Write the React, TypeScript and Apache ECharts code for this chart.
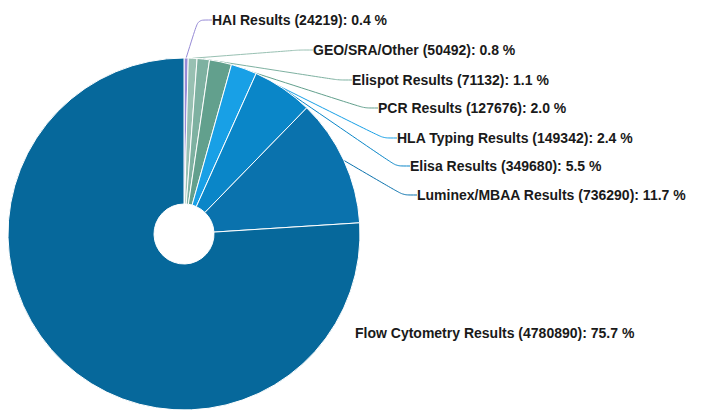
import React, { useEffect, useRef } from "react";
import * as echarts from "echarts";

const categories = [
  "HAI Results",
  "GEO/SRA/Other",
  "Elispot Results",
  "PCR Results",
  "HLA Typing Results",
  "Elisa Results",
  "Luminex/MBAA Results",
  "Flow Cytometry Results",
];
const counts = [24219, 50492, 71132, 127676, 149342, 349680, 736290, 4780890];
const percents = [0.4, 0.8, 1.1, 2.0, 2.4, 5.5, 11.7, 75.7];
const colors = [
  "#968ad6",
  "#98c0b2",
  "#7eb1a1",
  "#62a08d",
  "#18a0e6",
  "#0a86c8",
  "#0a72ad",
  "#06689b",
];
// label anchor positions (left x of text, middle y)
const labelPos: [number, number][] = [
  [212, 20],
  [313, 50],
  [352, 80],
  [378, 108],
  [397, 138],
  [410, 166],
  [417, 195],
  [355, 333],
];

export default function App() {
  const ref = useRef<HTMLDivElement>(null);
  useEffect(() => {
    document.body.style.margin = "0";
    const chart = echarts.init(ref.current!, null, { renderer: "svg" });
    const pad = 11;
    chart.setOption({
      animation: false,
      series: [
        {
          type: "pie",
          center: [184, 234],
          radius: [30, 176],
          startAngle: 90,
          clockwise: true,
          avoidLabelOverlap: false,
          itemStyle: { borderColor: "#ffffff", borderWidth: 1 },
          label: {
            show: true,
            position: "outside",
            color: "#1a1a1a",
            fontFamily: "Liberation Sans, Arial, sans-serif",
            fontWeight: "bold",
            fontSize: 14,
            padding: [0, 0, 0, pad],
            formatter: (p: any) =>
              `${p.name} (${p.value}): ${percents[p.dataIndex].toFixed(1)} %`,
          },
          labelLine: {
            show: true,
            length: 15,
            length2: 14,
            smooth: 0.25,
            lineStyle: { width: 1 },
          },
          labelLayout: (params: any) => {
            const p = labelPos[params.dataIndex];
            return {
              x: p[0] - pad,
              y: p[1],
              align: "left",
              verticalAlign: "middle",
            };
          },
          emphasis: { disabled: true },
          data: categories.map((name, i) => ({
            name,
            value: counts[i],
            itemStyle: { color: colors[i] },
            labelLine: i === categories.length - 1 ? { show: false } : undefined,
          })),
        },
      ],
    });
    return () => chart.dispose();
  }, []);
  return <div ref={ref} style={{ width: 705, height: 411 }} />;
}
